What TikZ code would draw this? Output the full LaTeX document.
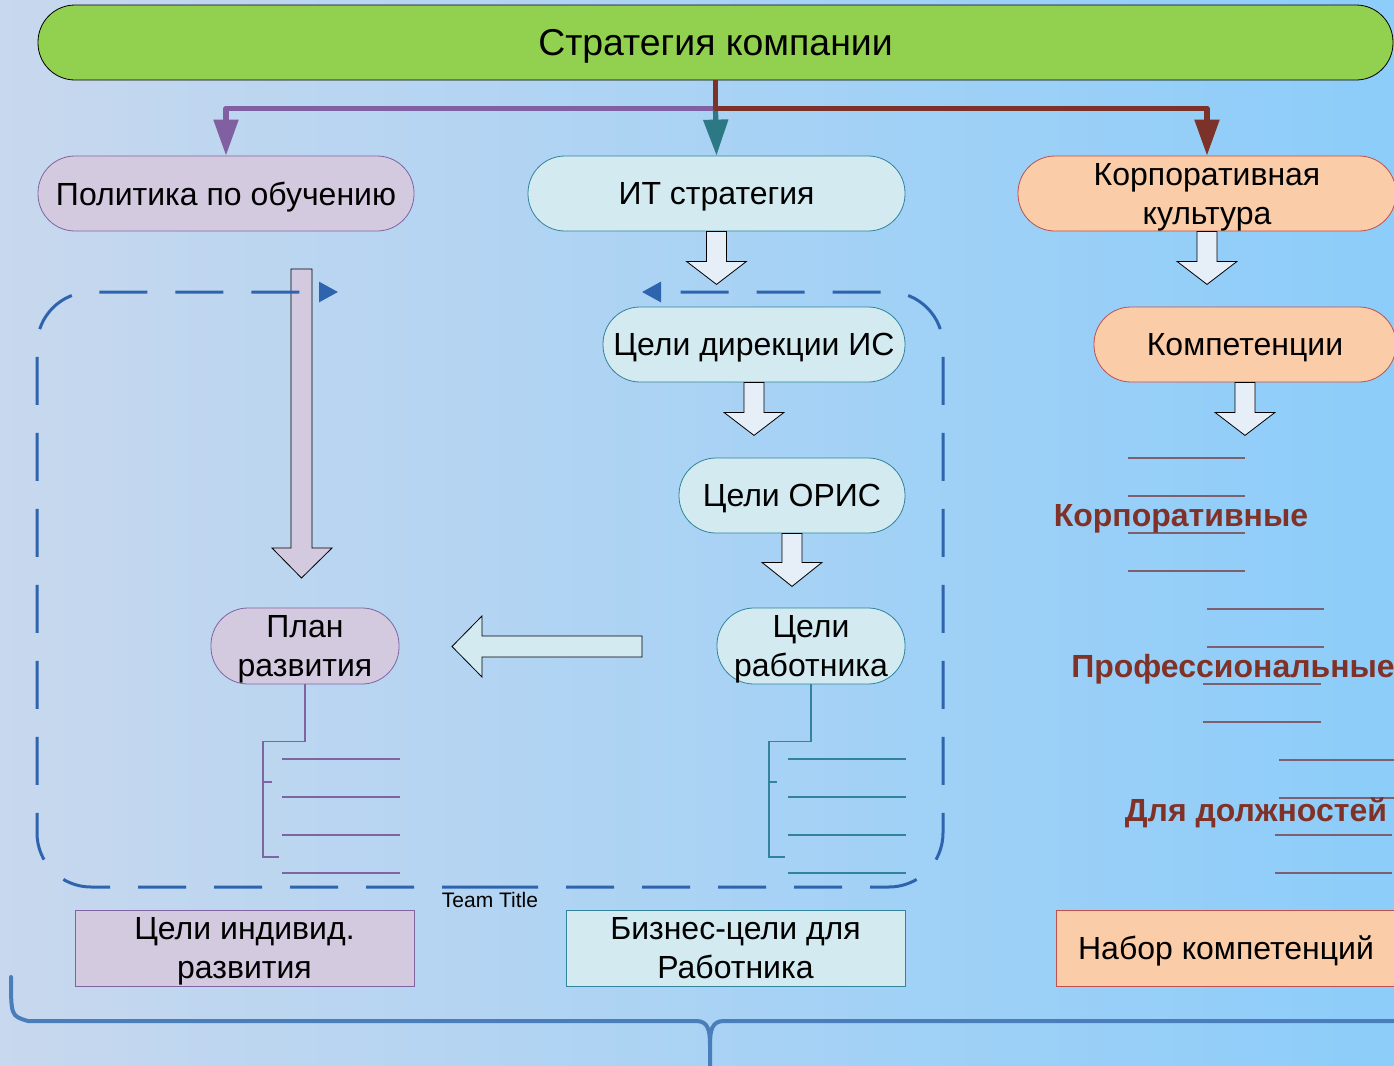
\documentclass[tikz,border=0pt]{standalone}
\usepackage{fontspec}
\setmainfont{Liberation Sans}
\usetikzlibrary{calc,arrows.meta,positioning}

\definecolor{bgl}{RGB}{200,216,238}
\definecolor{bgm}{RGB}{128,192,250}
\definecolor{bgr}{RGB}{140,205,250}
\definecolor{grn}{RGB}{146,208,80}
\definecolor{lavfill}{RGB}{212,202,224}
\definecolor{lavdraw}{RGB}{128,100,162}
\definecolor{cyafill}{RGB}{210,234,240}
\definecolor{cyadraw}{RGB}{49,132,155}
\definecolor{pchfill}{RGB}{250,204,168}
\definecolor{pchdraw}{RGB}{192,80,77}
\definecolor{blkfill}{RGB}{230,238,248}
\definecolor{purpjump}{RGB}{128,96,160}
\definecolor{tealjump}{RGB}{44,120,132}
\definecolor{redjump}{RGB}{124,50,40}
\definecolor{loopblue}{RGB}{46,100,174}
\definecolor{comptext}{RGB}{128,50,40}
\definecolor{compline}{RGB}{125,95,110}
\definecolor{braceblue}{RGB}{74,126,187}

\begin{document}
\begin{tikzpicture}[x=0.5pt,y=-0.5pt]

\tikzset{inner sep=1pt,
txt/.style={font=\fontsize{16}{19.5}\selectfont,align=center,text depth=0pt},
pill/.style={txt,rounded corners=18.5pt,minimum height=37.5pt,thin},
lav/.style={pill,fill=lavfill,draw=lavdraw},
cya/.style={pill,fill=cyafill,draw=cyadraw},
pch/.style={pill,fill=pchfill,draw=pchdraw},
lavbox/.style={txt,fill=lavfill,draw=lavdraw,minimum width=169.5pt,minimum height=38pt},
cyabox/.style={txt,fill=cyafill,draw=cyadraw,minimum width=169.5pt,minimum height=38pt},
pchbox/.style={txt,fill=pchfill,draw=pchdraw,minimum width=170pt,minimum height=38pt},
blkarrow/.style={fill=blkfill,draw=black,thin,line join=miter},
mainjump/.style={line width=2.6pt,line join=round,-{Triangle[length=18pt,width=12pt]}},
loopjump/.style={draw=loopblue,line width=1.5pt,dash pattern=on 24pt off 14pt,rounded corners=27pt,-{Triangle[length=9.5pt,width=10pt]}},
treelav/.style={draw=lavdraw,line width=0.6pt},
treecya/.style={draw=cyadraw,line width=0.6pt},
compgrp/.style={font=\fontsize{16}{19.5}\bfseries\selectfont,text=comptext},
bigbrace/.style={draw=braceblue,line width=2pt,line cap=round}}

% Background
\shade[left color=bgl,middle color=bgm,right color=bgr] (0,0) rectangle (1394,1066);
\useasboundingbox (0,0) rectangle (1394,1066);

% Strategy
\node[pill,fill=grn,draw=black,minimum width=677.5pt,font=\fontsize{18.7}{22}\selectfont] (strat) at (715.5,42.5) {Стратегия компании};

% First row
\node[lav,minimum width=188pt] (pol) at (226,193.5) {Политика по обучению};
\node[cya,minimum width=188.5pt] (its) at (716.5,193.5) {ИТ стратегия};
\node[pch,minimum width=189pt] (kult) at (1207,193.5) {Корпоративная\\культура};

% Second row
\node[cya,minimum width=151pt] (dir) at (754,344.5) {Цели дирекции ИС};
\node[pch,minimum width=151pt] (komp) at (1245,344.5) {Компетенции};
\node[cya,minimum width=113pt] (oris) at (792,495.5) {Цели ОРИС};
\node[cya,minimum width=94pt,minimum height=38pt] (rab) at (811,646) {Цели\\работника};
\node[lav,minimum width=94pt,minimum height=38pt] (plan) at (305,646) {План\\развития};

% Results
\node[lavbox] (indiv) at (244.5,948) {Цели индивид.\\развития};
\node[cyabox] (biz) at (735.5,948) {Бизнес-цели для\\Работника};
\node[pchbox] (nabor) at (1226,948) {Набор компетенций};

% Arrows from strategy
\coordinate (split) at ($(strat.south)+(0,28)$);
\draw[mainjump,draw=purpjump] (split) -| (pol.north);
\draw[mainjump,draw=tealjump] (split) -- (its.north);
\draw[mainjump,draw=redjump] (strat.south) -- (split) -| (kult.north);

% Block arrows
\draw[blkarrow] ($(its.south)+(-10,0)$) -- ++(20,0) -- ++(0,30) -- ++(20,0) -- ++(-30,23) -- ++(-30,-23) -- ++(20,0) -- cycle;
\draw[blkarrow] ($(dir.south)+(-10,0)$) -- ++(20,0) -- ++(0,30) -- ++(20,0) -- ++(-30,23) -- ++(-30,-23) -- ++(20,0) -- cycle;
\draw[blkarrow] ($(oris.south)+(-10,0)$) -- ++(20,0) -- ++(0,29) -- ++(20,0) -- ++(-30,24) -- ++(-30,-24) -- ++(20,0) -- cycle;
\draw[blkarrow] ($(kult.south)+(-10,0)$) -- ++(20,0) -- ++(0,30) -- ++(20,0) -- ++(-30,23) -- ++(-30,-23) -- ++(20,0) -- cycle;
\draw[blkarrow] ($(komp.south)+(-10,0)$) -- ++(20,0) -- ++(0,30) -- ++(20,0) -- ++(-30,23) -- ++(-30,-23) -- ++(20,0) -- cycle;
\draw[blkarrow,fill=lavfill] (291,269) -- (312,269) -- (312,548) -- (332,548) -- (301.5,578) -- (272,548) -- (291,548) -- cycle;
\draw[blkarrow,fill=cyafill] (642,636) -- (482,636) -- (482,616) -- (452,646.5) -- (482,677) -- (482,657) -- (642,657) -- cycle;

% Team loop
\coordinate (loopstart) at (490,887);
\coordinate (loopL) at (338,292);
\coordinate (loopR) at (642,292);
\draw[loopjump] (loopstart) -- (37,887) -- (37,292) -- (loopL);
\draw[loopjump] (loopstart) -- (943,887) -- (943,292) -- (loopR);
\node[font=\fontsize{10.5}{12}\selectfont] (team) at (490,900) {Team Title};

% Trees below plan and goals
\draw[treelav] (plan.south) -- ++(0,57) -| (263,857) -- ++(16,0);
\draw[treelav] (263,782) -- ++(9,0);
\foreach \y in {759,797,835,873}
  \draw[treelav] (282,\y) -- (400,\y);
\draw[treecya] (rab.south) -- ++(0,57) -| (769,857) -- ++(16,0);
\draw[treecya] (769,782) -- ++(8,0);
\foreach \y in {759,797,835,873}
  \draw[treecya] (788,\y) -- (906,\y);

% Competence groups
\foreach \y in {458,496,533,571}
  \draw[compline,line width=0.8pt] (1128,\y) -- (1245,\y);
\foreach \y in {609,647}
  \draw[compline,line width=0.8pt] (1207,\y) -- (1324,\y);
\foreach \y in {684,722}
  \draw[compline,line width=0.8pt] (1203,\y) -- (1321,\y);
\foreach \y in {760,798}
  \draw[compline,line width=0.8pt] (1279,\y) -- (1394,\y);
\foreach \y in {835,873}
  \draw[compline,line width=0.8pt] (1275,\y) -- (1392,\y);
\node[compgrp] (grp1) at (1181,519) {Корпоративные};
\node[compgrp] (grp2) at (1233,669) {Профессиональные};
\node[compgrp] (grp3) at (1256,813) {Для должностей};

% Brace
\draw[bigbrace] (11,977) .. controls (11,1016) .. (28,1021) -- (696,1021) .. controls (708,1021) and (710,1030) .. (710,1045) -- (710,1066);
\draw[bigbrace] (710,1045) .. controls (710,1030) and (712,1021) .. (724,1021) -- (1394,1021);

\end{tikzpicture}
\end{document}
